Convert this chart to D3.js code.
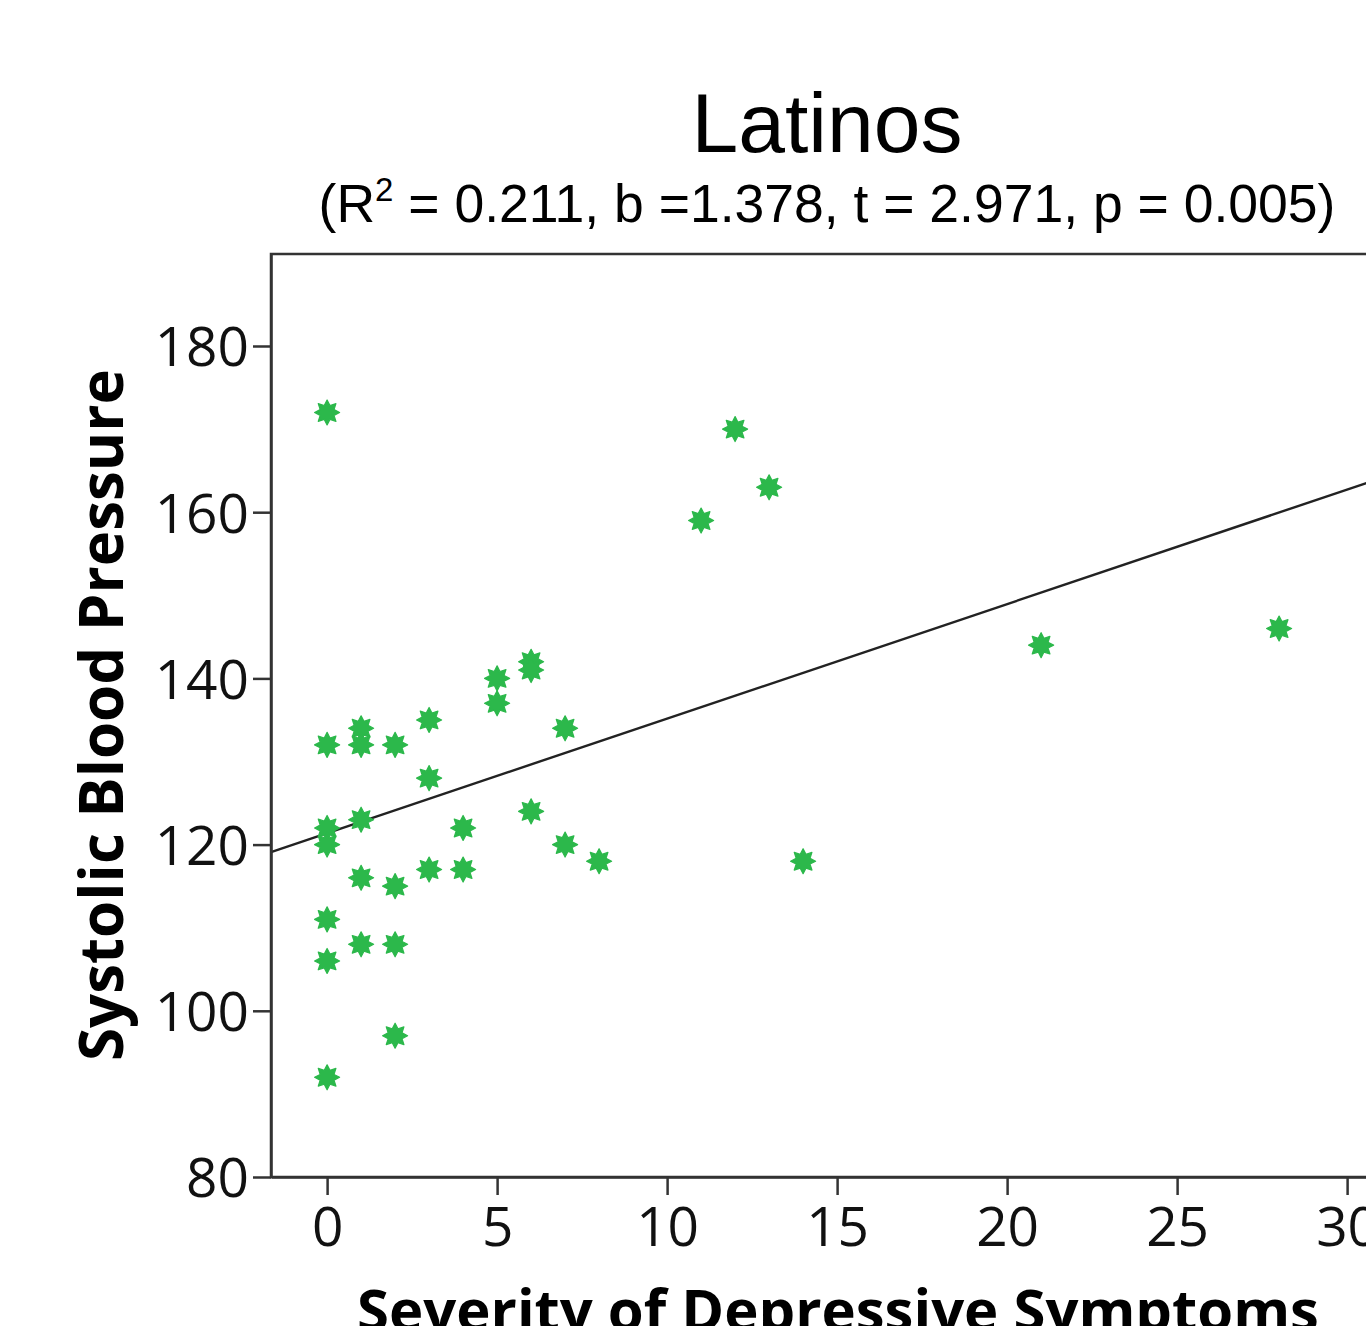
<!DOCTYPE html>
<html>
<head>
<meta charset="utf-8">
<script src="https://cdn.jsdelivr.net/npm/d3@7"></script>
<style>
  html, body { margin: 0; padding: 0; background: #fff; }
  svg { display: block; overflow: hidden; }
</style>
</head>
<body>
<script>
// Depressive symptom score (x) and systolic blood pressure (y) for each participant
const severity = [0,0,0,0,0,0,0, 1,1,1,1,1, 2,2,2,2, 3,3,3, 4,4, 5,5, 6,6,6, 7,7, 8, 11, 12, 13, 14, 21, 28];
const systolic = [172,132,122,120,111,106,92, 134,132,123,116,108, 132,115,108,97, 135,128,117, 122,117, 140,137, 142,141,124, 134,120, 118, 159, 170, 163, 118, 144, 146];

// Reported regression statistics
const stats = { r2: "0.211", b: 1.378, t: "2.971", p: "0.005" };

const xTicks = [0, 5, 10, 15, 20, 25, 30];
const yTicks = [80, 100, 120, 140, 160, 180];

const W = 1366, H = 1326;
const svg = d3.select("body").append("svg").attr("width", W).attr("height", H);

const plotLeft = 271, plotTop = 254, plotBottom = 1177;
const xs = d3.scaleLinear().domain([-1.65, 31.6]).range([plotLeft, plotLeft + 33.25 * 34]);
const ys = d3.scaleLinear().domain([80, 191.07]).range([plotBottom, plotTop]);

// Frame: top border and the right edge (beyond the visible area)
svg.append("rect")
  .attr("x", plotLeft).attr("y", plotTop)
  .attr("width", xs.range()[1] - plotLeft).attr("height", plotBottom - plotTop)
  .attr("fill", "none").attr("stroke", "#333").attr("stroke-width", 2.5);

// Regression line through the means with the reported slope
const mx = d3.mean(severity), my = d3.mean(systolic);
const intercept = my - stats.b * mx;
const [x0, x1] = xs.domain();
svg.append("line")
  .attr("x1", xs(x0)).attr("y1", ys(intercept + stats.b * x0))
  .attr("x2", xs(x1)).attr("y2", ys(intercept + stats.b * x1))
  .attr("stroke", "#222").attr("stroke-width", 2.4);

// Eight-pointed star markers
const star = d3.symbol().type({
  draw(ctx, size) {
    const ro = 12.5, ri = 7.5, n = 8;
    for (let i = 0; i < n * 2; i++) {
      const r = i % 2 === 0 ? ro : ri;
      const a = (Math.PI / n) * i - Math.PI / 2;
      const px = r * Math.cos(a), py = r * Math.sin(a);
      if (i === 0) ctx.moveTo(px, py); else ctx.lineTo(px, py);
    }
    ctx.closePath();
  }
});

svg.append("g").selectAll("path")
  .data(severity.map((s, i) => [s, systolic[i]]))
  .join("path")
  .attr("d", star())
  .attr("transform", d => `translate(${xs(d[0])},${ys(d[1])})`)
  .attr("fill", "#2cb84b")
  .attr("stroke", "#2cb84b").attr("stroke-width", 1.2).attr("stroke-linejoin", "round");

// Axes
const tickFont = "'Open Sans', 'DejaVu Sans', sans-serif";
const xAxis = svg.append("g").attr("transform", `translate(0,${plotBottom})`)
  .call(d3.axisBottom(xs).tickValues(xTicks).tickSize(18).tickPadding(12).tickSizeOuter(0));
const yAxis = svg.append("g").attr("transform", `translate(${plotLeft},0)`)
  .call(d3.axisLeft(ys).tickValues(yTicks).tickSize(18).tickPadding(4).tickSizeOuter(0));
[xAxis, yAxis].forEach(g => {
  g.select(".domain").attr("stroke", "#333").attr("stroke-width", 2.5);
  g.selectAll(".tick line").attr("stroke", "#333").attr("stroke-width", 2.5);
  g.selectAll(".tick text").attr("fill", "#111")
    .style("font-family", tickFont).style("font-size", "55px");
});
yAxis.selectAll(".tick text").attr("dy", "0.36em");

// Titles
svg.append("text").attr("x", 827).attr("y", 152).attr("text-anchor", "middle")
  .style("font-family", "'Liberation Sans', Arial, sans-serif").style("font-size", "84px")
  .text("Latinos");

const sub = svg.append("text").attr("x", 827).attr("y", 222).attr("text-anchor", "middle")
  .style("font-family", "'Liberation Sans', Arial, sans-serif").style("font-size", "53.5px");
sub.append("tspan").text("(R");
sub.append("tspan").attr("dy", -21).style("font-size", "33px").text("2");
sub.append("tspan").attr("dy", 21).text(` = ${stats.r2}, b =${stats.b.toFixed(3)}, t = ${stats.t}, p = ${stats.p})`);

// Axis titles
svg.append("text")
  .attr("transform", "translate(123,715) rotate(-90)")
  .attr("text-anchor", "middle")
  .style("font-family", tickFont).style("font-weight", "bold").style("font-size", "60px")
  .text("Systolic Blood Pressure");

svg.append("text").attr("x", 838).attr("y", 1331).attr("text-anchor", "middle")
  .style("font-family", tickFont).style("font-weight", "bold").style("font-size", "58px")
  .text("Severity of Depressive Symptoms");
</script>
</body>
</html>
